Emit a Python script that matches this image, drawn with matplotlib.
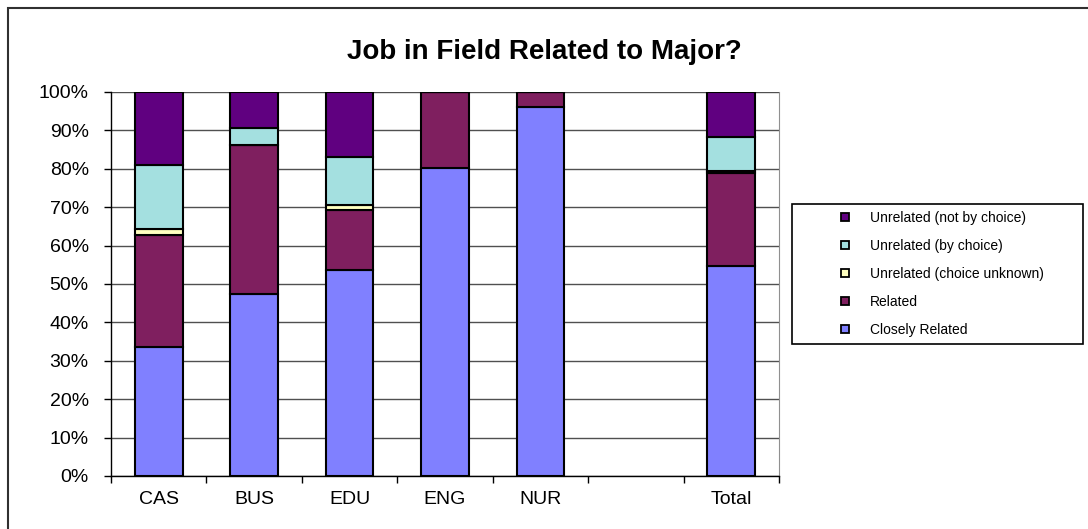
import numpy as np
import matplotlib
matplotlib.use("Agg")
import matplotlib.pyplot as plt
from matplotlib.lines import Line2D
from matplotlib.patches import Rectangle
from matplotlib.ticker import FuncFormatter, FixedLocator

plt.rcParams['font.family'] = ['Liberation Sans', 'DejaVu Sans']

# Job in field related to major - percent of respondents per college
categories = ['CAS', 'BUS', 'EDU', 'ENG', 'NUR', '', 'Total']
closely_related = [33.5, 47.4, 53.7, 80.1, 96.2, np.nan, 54.6]
related = [29.2, 38.8, 15.5, 19.9, 3.8, np.nan, 24.2]
unrelated_unknown = [1.7, 0.0, 1.3, 0.0, 0.0, np.nan, 0.7]
unrelated_choice = [16.5, 4.5, 12.5, 0.0, 0.0, np.nan, 8.8]
unrelated_not_choice = [19.1, 9.3, 17.0, 0.0, 0.0, np.nan, 11.7]

series_names = ['Closely Related', 'Related', 'Unrelated (choice unknown)',
                'Unrelated (by choice)', 'Unrelated (not by choice)']
series_colors = ['#8080FF', '#7F1F5F', '#FFFFC0', '#A4E0E0', '#600080']
series_vals = [closely_related, related, unrelated_unknown, unrelated_choice, unrelated_not_choice]

fig = plt.figure(figsize=(10.88, 5.29), dpi=100)
ax = fig.add_axes([111/1088, 1-476/529, (779-111)/1088, (476-92)/529])

x = np.arange(len(categories))
bottom = np.zeros(len(categories))
for name, col, vals in zip(series_names, series_colors, series_vals):
    v = np.array(vals, dtype=float)
    ax.bar(x, v, 0.5, bottom=bottom, color=col, edgecolor='black', linewidth=1.5, label=name, zorder=3)
    bottom = bottom + v

ax.set_xlim(-0.5, len(categories)-0.5)
ax.set_ylim(0, 100)
ax.set_yticks(np.arange(0, 101, 10))
ax.yaxis.set_major_formatter(FuncFormatter(lambda v, p: '{:.0f}%'.format(v)))
ax.grid(axis='y', color='#505050', linewidth=1.0, zorder=0)
ax.set_axisbelow(True)

# category labels in middle, tick marks between categories
ax.set_xticks(x)
ax.set_xticklabels(categories)
ax.xaxis.set_minor_locator(FixedLocator(np.arange(-0.5, len(categories), 1.0)))
ax.tick_params(axis='x', which='major', length=0, pad=11, labelsize=14)
ax.tick_params(axis='x', which='minor', length=5, width=1, direction='out')
ax.tick_params(axis='y', length=5, width=1, direction='out', pad=11, labelsize=14)

ax.spines['top'].set_visible(False)
ax.spines['right'].set_color('#909090')
ax.spines['left'].set_linewidth(1.0)
ax.spines['bottom'].set_linewidth(1.0)

fig.text(544/1088, 1-52/529, 'Job in Field Related to Major?', ha='center', va='center',
         fontsize=20, fontweight='bold')

# Legend, top entry = top of stack
handles = [Line2D([], [], linestyle='none', marker='s', markersize=5.5, markerfacecolor=c,
                  markeredgecolor='black', markeredgewidth=1.3) for c in series_colors]
leg = fig.legend(handles[::-1], series_names[::-1], loc='center', frameon=False,
                 bbox_to_anchor=(937/1088, 1-274/529), fontsize=10, labelspacing=1.0)
fig.patches.append(Rectangle((792/1088, 1-344/529), (1083-792)/1088, 140/529,
                             transform=fig.transFigure, fill=False, edgecolor='black', linewidth=1.2))

# outer chart border
fig.patches.append(Rectangle((8/1088, -0.1), 1.2, 1.1-8/529, transform=fig.transFigure,
                             fill=False, edgecolor='#303030', linewidth=1.5))

fig.savefig('out.png', dpi=100)
